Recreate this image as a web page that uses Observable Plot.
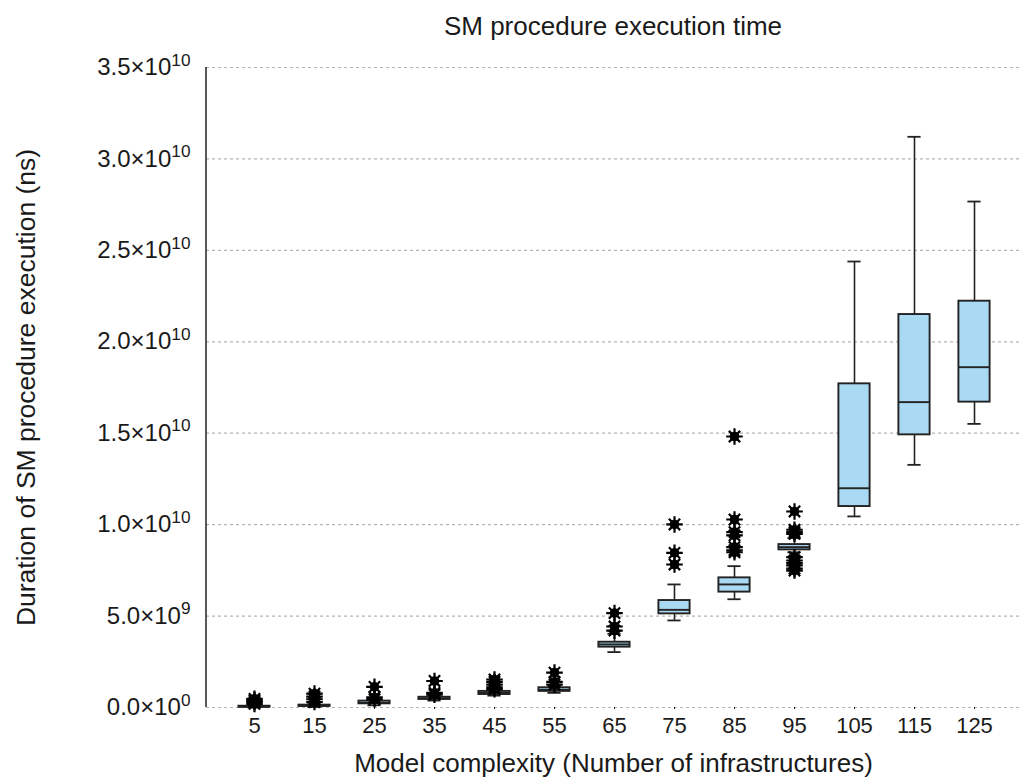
<!DOCTYPE html>
<html><head><meta charset="utf-8">
<script src="https://cdn.jsdelivr.net/npm/d3@7"></script>
<script src="https://cdn.jsdelivr.net/npm/@observablehq/plot@0.6"></script>
<style>
body{margin:0;background:#fff;font-family:"Liberation Sans",Arial,sans-serif;}
#wrap{position:relative;width:1025px;height:778px;overflow:hidden;}
#title{position:absolute;left:206px;width:814px;top:11px;text-align:center;font-size:26px;line-height:30px;color:#1a1a1a;}
#chart{position:absolute;left:0;top:0;}
</style></head><body>
<div id="wrap"><div id="chart"></div><div id="title">SM procedure execution time</div></div>
<script>
// values in units of 1e9 ns
const categories = ["5","15","25","35","45","55","65","75","85","95","105","115","125"];
const whiskerLow  = [0.00, 0.02, 0.12, 0.38, 0.65, 0.80, 3.03, 4.76, 5.92, 8.49, 10.45, 13.27, 15.51];
const q1          = [0.02, 0.06, 0.20, 0.44, 0.71, 0.88, 3.30, 5.12, 6.31, 8.62, 10.99, 14.91, 16.70];
const median      = [0.04, 0.09, 0.26, 0.50, 0.80, 0.97, 3.45, 5.34, 6.73, 8.77, 11.99, 16.70, 18.61];
const q3          = [0.07, 0.13, 0.35, 0.56, 0.88, 1.08, 3.57, 5.85, 7.09, 8.91, 17.70, 21.49, 22.22];
const whiskerHigh = [0.12, 0.20, 0.48, 0.66, 1.00, 1.20, 4.03, 6.73, 7.73, 9.26, 24.39, 31.21, 27.67];
const outliers = [
  [0.20, 0.30, 0.38, 0.47],
  [0.30, 0.45, 0.60, 0.76],
  [1.13, 0.55, 0.45],
  [1.45, 0.80, 0.70],
  [1.53, 1.40, 1.25, 1.10, 1.00],
  [1.91, 1.40, 1.25],
  [5.16, 4.43, 4.20],
  [10.01, 8.46, 7.82],
  [14.82, 10.28, 9.59, 9.41, 8.77, 8.60, 8.49],
  [10.72, 9.72, 9.59, 9.50, 8.22, 8.04, 7.90, 7.77, 7.60, 7.49],
  [], [], []
];
const yTicks = [0, 5e9, 1e10, 1.5e10, 2e10, 2.5e10, 3e10, 3.5e10];

const U = 1e9;
const boxes = categories.map((c, i) => ({
  cat: c, lo: whiskerLow[i]*U, q1: q1[i]*U, med: median[i]*U, q3: q3[i]*U, hi: whiskerHigh[i]*U
}));
const outlierRows = categories.flatMap((c, i) => outliers[i].map(v => ({cat: c, v: v*U})));

function fmt(v) {
  if (v === 0) return "0.0×10^0";
  const e = Math.floor(Math.log10(v) + 1e-9);
  const m = v / Math.pow(10, e);
  return m.toFixed(1) + "×10^" + e;
}

const fontFamily = '"Liberation Sans", Arial, sans-serif';
const boxInset = 14.4, capInset = 23.4;

const plot = Plot.plot({
  width: 1025, height: 778,
  marginLeft: 206, marginRight: 5, marginTop: 67, marginBottom: 71,
  style: {fontFamily, fontSize: "21px", color: "#1a1a1a", background: "white"},
  x: {type: "band", domain: categories, padding: 0, insetLeft: 12.6, insetRight: 10.6},
  y: {domain: [0, 3.5e10]},
  marks: [
    Plot.ruleY(yTicks, {stroke: "#b4b4b4", strokeWidth: 1.2, strokeDasharray: "3,3"}),
    Plot.axisX({tickSize: 2, tickPadding: 8,
      label: "Model complexity (Number of infrastructures)", labelAnchor: "center", labelArrow: "none", labelOffset: 64}),
    Plot.axisY({ticks: yTicks, tickSize: 0, tickPadding: 16, tickFormat: fmt,
      label: "Duration of SM procedure execution (ns)", labelAnchor: "center", labelArrow: "none", labelOffset: 190}),
    // whiskers
    Plot.ruleX(boxes, {x: "cat", y1: "lo", y2: "q1", stroke: "#222", strokeWidth: 1.6}),
    Plot.ruleX(boxes, {x: "cat", y1: "q3", y2: "hi", stroke: "#222", strokeWidth: 1.6}),
    Plot.tickY(boxes, {x: "cat", y: "lo", stroke: "#222", strokeWidth: 1.8, insetLeft: capInset, insetRight: capInset}),
    Plot.tickY(boxes, {x: "cat", y: "hi", stroke: "#222", strokeWidth: 1.8, insetLeft: capInset, insetRight: capInset}),
    // boxes
    Plot.barY(boxes, {x: "cat", y1: "q1", y2: "q3", fill: "#a9d9f3", stroke: "#222", strokeWidth: 1.9, insetLeft: boxInset, insetRight: boxInset}),
    Plot.tickY(boxes, {x: "cat", y: "med", stroke: "#222", strokeWidth: 1.9, insetLeft: boxInset, insetRight: boxInset}),
    // outliers
    Plot.dot(outlierRows, {x: "cat", y: "v", r: 4.8, fill: "black", stroke: "none"}),
    Plot.dot(outlierRows, {x: "cat", y: "v", r: 5.4, symbol: "plus", stroke: "black", strokeWidth: 2.2}),
    Plot.dot(outlierRows, {x: "cat", y: "v", r: 5.2, symbol: "times", stroke: "black", strokeWidth: 2.2})
  ]
});

document.getElementById("chart").appendChild(plot);

const svg = d3.select(plot);
// superscript exponents on y tick labels
svg.selectAll('g[aria-label="y-axis tick label"] text').each(function() {
  const t = d3.select(this);
  const parts = t.text().split("^");
  if (parts.length === 2) {
    t.text(parts[0]);
    t.append("tspan").attr("dy", "-0.55em").attr("font-size", "0.72em").text(parts[1]);
  }
  t.style("font-size", "24px");
});
svg.selectAll('g[aria-label="x-axis tick label"] text').style("font-size", "22px");
svg.selectAll('g[aria-label="x-axis label"] text').style("font-size", "26px");
svg.selectAll('g[aria-label="y-axis label"] text').style("font-size", "26.5px");

// y axis line
const ys = plot.scale("y");
svg.append("line")
  .attr("x1", 206).attr("x2", 206)
  .attr("y1", ys.apply(0)).attr("y2", ys.apply(3.5e10))
  .attr("stroke", "#222").attr("stroke-width", 1.5);
</script>
</body></html>
